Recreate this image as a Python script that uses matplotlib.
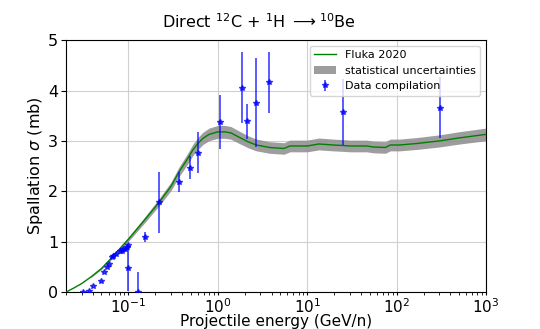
import numpy as np
import matplotlib
matplotlib.use("Agg")
import matplotlib.pyplot as plt

# Fluka 2020 prediction (GeV/n, mb)
fluka_energy = [0.02, 0.025, 0.03, 0.038, 0.05, 0.061, 0.08, 0.1, 0.15, 0.222,
                0.3, 0.372, 0.45, 0.525, 0.6, 0.68, 0.8, 1.0, 1.2, 1.4,
                1.75, 2.2, 2.7, 3.8, 5.5, 6.4, 8.2, 10, 13.5, 19.5,
                25, 30, 46, 55, 75, 85, 108, 170, 300, 500, 1000]
fluka_xs = [0.0, 0.09, 0.17, 0.30, 0.47, 0.63, 0.86, 1.05, 1.42, 1.79,
            2.10, 2.40, 2.62, 2.82, 2.95, 3.05, 3.13, 3.18, 3.18, 3.16,
            3.07, 2.98, 2.92, 2.87, 2.85, 2.90, 2.90, 2.90, 2.94, 2.92,
            2.91, 2.90, 2.90, 2.88, 2.87, 2.92, 2.92, 2.95, 3.00, 3.06, 3.13]
rel_uncertainty = 0.04

# measured cross sections
data_energy = [0.0307, 0.0365, 0.0407, 0.0488, 0.0532, 0.0571, 0.0611, 0.0649,
               0.0666, 0.0732, 0.0797, 0.0838, 0.0881, 0.0923, 0.0956, 0.098,
               0.1, 0.128, 0.153, 0.222, 0.372, 0.491, 0.608, 1.05,
               1.88, 2.14, 2.69, 3.70, 25.2, 303]
data_xs = [0.0, 0.03, 0.13, 0.23, 0.39, 0.50, 0.56, 0.70,
           0.72, 0.75, 0.81, 0.82, 0.85, 0.86, 0.90, 0.93,
           0.48, 0.0, 1.10, 1.78, 2.18, 2.47, 2.77, 3.38,
           4.06, 3.39, 3.76, 4.16, 3.57, 3.66]
data_err = [0.0, 0.0, 0.0, 0.0, 0.0, 0.0, 0.0, 0.0,
            0.0, 0.0, 0.0, 0.0, 0.0, 0.0, 0.0, 0.0,
            0.45, 0.40, 0.10, 0.60, 0.20, 0.23, 0.40, 0.53,
            0.70, 0.35, 0.89, 0.60, 0.66, 0.60]

energy = np.array(fluka_energy)
xs = np.array(fluka_xs)
band = energy >= 0.038

fig, ax = plt.subplots(figsize=(5.4, 3.29), dpi=100)
fig.subplots_adjust(left=0.122, right=0.9, top=0.878, bottom=0.112)

ax.plot(energy, xs, color="green", lw=1.0, label="Fluka 2020", zorder=3)
ax.fill_between(energy[band], xs[band] * (1 - rel_uncertainty),
                xs[band] * (1 + rel_uncertainty), color="#8c8c8c", alpha=0.85,
                lw=0, label="statistical uncertainties", zorder=2)
ax.errorbar(data_energy, data_xs, yerr=data_err, fmt="*", color="blue",
            ms=4, elinewidth=1.2, alpha=0.75, label="Data compilation", zorder=4)

ax.set_xscale("log")
ax.set_xlim(0.02, 1000)
ax.set_ylim(0, 5)
ax.set_yticks([0, 1, 2, 3, 4, 5])
ax.grid(True, which="major", color="#d0d0d0", lw=0.8)
ax.tick_params(axis="y", labelsize=11.5, pad=2)
ax.tick_params(axis="x", which="both", labelsize=11, length=2.5, pad=1)

ax.set_xlabel("Projectile energy (GeV/n)", fontsize=11, labelpad=-1)
ax.set_ylabel(r"Spallation $\sigma$ (mb)", fontsize=11.5, labelpad=2)
ax.set_title(r"Direct $^{12}$C + $^{1}$H $\longrightarrow$$^{10}$Be",
             fontsize=11.5, pad=9, x=0.46)
ax.legend(loc="upper right", fontsize=8)

fig.savefig("out.png", dpi=100)
